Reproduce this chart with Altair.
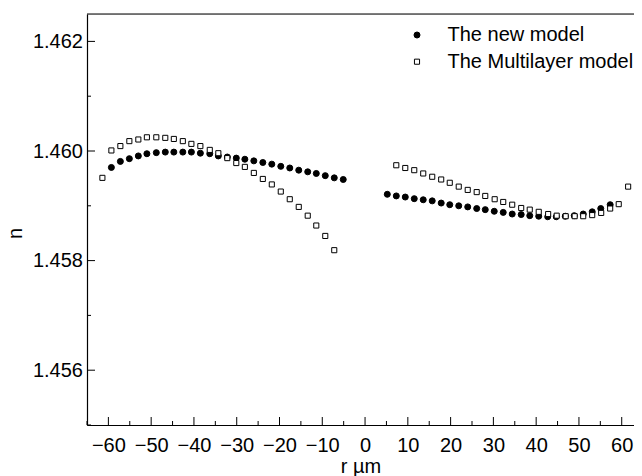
import altair as alt
import pandas as pd

# The new model (filled circles)
new_r = [-59.3, -57.2, -55.1, -53.0, -51.0, -48.8, -46.7, -44.7, -42.6, -40.6, -38.5, -36.3, -34.3,
         -32.2, -30.1, -28.1, -26.0, -23.9, -21.8, -19.7, -17.6, -15.5, -13.4, -11.4, -9.3, -7.2, -5.1,
         5.2, 7.3, 9.4, 11.5, 13.6, 15.7, 17.8, 19.8, 21.9, 24.0, 26.1, 28.1, 30.2, 32.3, 34.4,
         36.5, 38.5, 40.6, 42.7, 44.7, 46.8, 48.9, 51.0, 53.1, 55.1, 57.3]
new_n = [1.45970, 1.45981, 1.45986, 1.45991, 1.45995, 1.45997, 1.45998, 1.45998, 1.45998, 1.45998,
         1.45996, 1.45995, 1.45991, 1.45989, 1.45987, 1.45985, 1.45982, 1.45979, 1.45976, 1.45972,
         1.45969, 1.45965, 1.45962, 1.45959, 1.45955, 1.45951, 1.45948,
         1.45921, 1.45918, 1.45916, 1.45913, 1.45911, 1.45909, 1.45905, 1.45902, 1.45900, 1.45898,
         1.45895, 1.45893, 1.45890, 1.45888, 1.45885, 1.45884, 1.45882, 1.45881, 1.45880, 1.45880,
         1.45881, 1.45882, 1.45885, 1.45889, 1.45895, 1.45902]

# The Multilayer model (open squares)
ml_r = [-61.4, -59.3, -57.2, -55.1, -53.0, -51.0, -48.8, -46.7, -44.7, -42.6, -40.6, -38.5, -36.3,
        -34.3, -32.2, -30.1, -28.1, -26.0, -23.9, -21.8, -19.7, -17.6, -15.5, -13.4, -11.4, -9.3, -7.2,
        7.3, 9.4, 11.5, 13.6, 15.7, 17.8, 19.8, 21.9, 24.0, 26.1, 28.1, 30.3, 32.3, 34.4, 36.5,
        38.5, 40.6, 42.8, 44.8, 46.9, 49.0, 51.0, 53.1, 55.2, 57.3, 59.3, 61.5]
ml_n = [1.45951, 1.46001, 1.46009, 1.46018, 1.46021, 1.46025, 1.46025, 1.46024, 1.46022, 1.46018,
        1.46013, 1.46009, 1.46002, 1.45996, 1.45987, 1.45978, 1.45971, 1.45960, 1.45949, 1.45939,
        1.45926, 1.45912, 1.45898, 1.45882, 1.45864, 1.45845, 1.45819,
        1.45974, 1.45969, 1.45965, 1.45959, 1.45953, 1.45948, 1.45942, 1.45935, 1.45929, 1.45925,
        1.45918, 1.45912, 1.45907, 1.45902, 1.45896, 1.45893, 1.45889, 1.45885, 1.45882, 1.45881,
        1.45881, 1.45881, 1.45883, 1.45887, 1.45895, 1.45903, 1.45935]

series_names = ["The new model", "The Multilayer model"]

x_major = [-60, -50, -40, -30, -20, -10, 0, 10, 20, 30, 40, 50, 60]
x_minor = [-65, -55, -45, -35, -25, -15, -5, 5, 15, 25, 35, 45, 55]
y_major = [1.456, 1.458, 1.460, 1.462]
y_minor = [1.455, 1.457, 1.459, 1.461]

W, H = 547, 411
FONT = "Liberation Sans"

df = pd.concat([
    pd.DataFrame({"r": new_r, "n": new_n, "model": series_names[0]}),
    pd.DataFrame({"r": ml_r, "n": ml_n, "model": series_names[1]}),
])

xscale = alt.Scale(domain=[-65, 62.87], nice=False, zero=False)
yscale = alt.Scale(domain=[1.455, 1.4625], nice=False, zero=False)
shape_scale = alt.Scale(domain=series_names, range=["circle", "square"])
fill_scale = alt.Scale(domain=series_names, range=["black", "white"])
size_scale = alt.Scale(domain=series_names, range=[36, 26])
row_scale = alt.Scale(domain=[0, 1], range=[0, 26.7])

xaxis = alt.Axis(values=x_major, format="d", title="r µm", grid=False, ticks=False,
                 labelPadding=10, labelFontSize=20, labelFont=FONT, labelColor="black",
                 titleFontSize=20, titleFont=FONT, titleFontWeight="normal", titleColor="black",
                 titleY=47, titleBaseline="alphabetic",
                 domainColor="black", domainWidth=1.2, labelFlush=False)
yaxis = alt.Axis(values=y_major, format=".3f", title="n", grid=False, ticks=False,
                 labelPadding=4.5, labelFontSize=20, labelFont=FONT, labelColor="black",
                 titleFontSize=20, titleFont=FONT, titleFontWeight="normal", titleColor="black",
                 titleX=-66, titleY=219, titleBaseline="alphabetic", titleAngle=270,
                 domainColor="black", domainWidth=1.2, labelFlush=False)

points = alt.Chart(df).mark_point(opacity=1, stroke="black", strokeWidth=1).encode(
    x=alt.X("r:Q", scale=xscale, axis=xaxis),
    y=alt.Y("n:Q", scale=yscale, axis=yaxis),
    shape=alt.Shape("model:N", scale=shape_scale, legend=None),
    fill=alt.Fill("model:N", scale=fill_scale, legend=None),
    size=alt.Size("model:N", scale=size_scale, legend=None),
)

# legend (drawn with the same shape/fill scales)
leg_df = pd.DataFrame({"model": series_names, "row": [0, 1]})
leg_sym = alt.Chart(leg_df).mark_point(opacity=1, stroke="black", strokeWidth=1).encode(
    x=alt.value(330),
    y=alt.value(21),
    yOffset=alt.YOffset("row:Q", scale=row_scale),
    shape=alt.Shape("model:N", scale=shape_scale, legend=None),
    fill=alt.Fill("model:N", scale=fill_scale, legend=None),
    size=alt.Size("model:N", scale=size_scale, legend=None),
)
leg_txt = alt.Chart(leg_df).mark_text(align="left", baseline="middle", fontSize=20, font=FONT,
                                      color="black").encode(
    x=alt.value(360.5),
    y=alt.value(21),
    yOffset=alt.YOffset("row:Q", scale=row_scale),
    text="model:N",
)

xmaj = alt.Chart(pd.DataFrame({"v": x_major})).mark_rule(color="black", strokeWidth=1).encode(
    x=alt.X("v:Q", scale=xscale), y=alt.value(H), y2=alt.value(H - 8))
xmin = alt.Chart(pd.DataFrame({"v": x_minor})).mark_rule(color="black", strokeWidth=1).encode(
    x=alt.X("v:Q", scale=xscale), y=alt.value(H), y2=alt.value(H - 4))
ymaj = alt.Chart(pd.DataFrame({"v": y_major})).mark_rule(color="black", strokeWidth=1).encode(
    y=alt.Y("v:Q", scale=yscale), x=alt.value(0), x2=alt.value(8))
ymin = alt.Chart(pd.DataFrame({"v": y_minor})).mark_rule(color="black", strokeWidth=1).encode(
    y=alt.Y("v:Q", scale=yscale), x=alt.value(0), x2=alt.value(4))
top = alt.Chart(pd.DataFrame({"a": [0]})).mark_rule(color="black", strokeWidth=1.2).encode(
    y=alt.value(0), x=alt.value(0), x2=alt.value(W))

chart = alt.layer(xmaj, xmin, ymaj, ymin, top, points, leg_sym, leg_txt).properties(
    width=W, height=H,
    autosize=alt.AutoSizeParams(type="none"),
    padding={"left": 79, "top": 6, "right": 0, "bottom": 51},
).configure_view(stroke=None).configure(background="white")

chart.save("out.html", embed_options={"renderer": "svg", "actions": False})
